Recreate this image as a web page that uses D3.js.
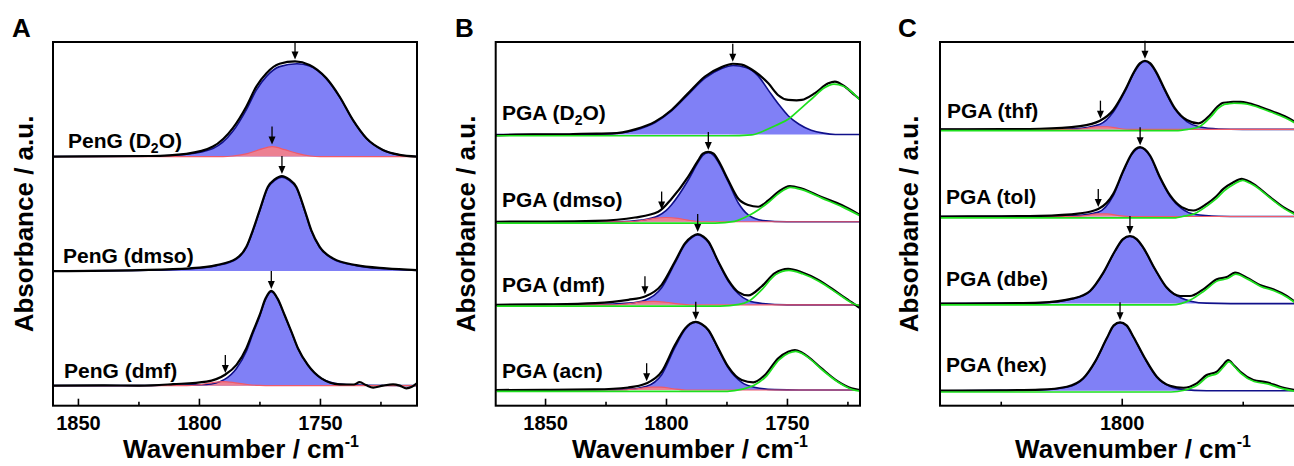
<!DOCTYPE html>
<html>
<head>
<meta charset="utf-8">
<script src="https://cdn.jsdelivr.net/npm/d3@7"></script>
<style>
  body { margin: 0; background: #fff; }
  svg { display: block; }
  text { font-family: "Liberation Sans", Arial, sans-serif; font-weight: bold; fill: #000; }
</style>
</head>
<body>
<svg id="chart" width="1294" height="466"></svg>
<script>
// ---- data: [wavenumber, absorbance] ----
// panel A, PenG
var penG_D2O_total = [[1860,0],[1820,0.005],[1805.2,0.024],[1794.2,0.087],[1786,0.248],[1780.4,0.437],[1776.3,0.611],[1772.1,0.728],[1766.7,0.81],[1760.3,0.83],[1754.3,0.80],[1747.4,0.685],[1741.9,0.524],[1736.4,0.32],[1730.8,0.16],[1724,0.058],[1717.1,0.015],[1710,0]];
var penG_D2O_main = [[1860,0],[1820,0.004],[1805.2,0.02],[1794.2,0.07],[1786,0.22],[1780.4,0.41],[1776.3,0.58],[1772.1,0.70],[1766.7,0.785],[1759.5,0.81],[1754.3,0.79],[1747.4,0.68],[1741.9,0.52],[1736.4,0.318],[1730.8,0.158],[1724,0.057],[1717.1,0.014],[1710,0]];
var penG_D2O_shoulder = [[1860,0],[1790,0],[1786,0.005],[1780,0.025],[1775,0.06],[1769.8,0.087],[1764.5,0.06],[1759,0.025],[1754,0.005],[1750,0],[1710,0]];

var penG_dmso_total = [[1860,0],[1824.5,0.009],[1803.8,0.024],[1792.8,0.052],[1784.5,0.111],[1780.4,0.212],[1777.7,0.358],[1774.9,0.533],[1771.5,0.736],[1768.7,0.80],[1765.7,0.83],[1762.7,0.80],[1759.8,0.736],[1756.3,0.533],[1753.6,0.358],[1750.1,0.212],[1744.6,0.111],[1735,0.052],[1722.6,0.024],[1710,0.009]];
var penG_dmso_main = [[1860,0],[1824.5,0.006],[1803.8,0.02],[1792.8,0.048],[1784.5,0.106],[1780.4,0.206],[1777.7,0.35],[1774.9,0.525],[1771.5,0.728],[1768.7,0.792],[1765.7,0.82],[1762.7,0.792],[1759.8,0.728],[1756.3,0.525],[1753.6,0.35],[1750.1,0.206],[1744.6,0.106],[1735,0.048],[1722.6,0.02],[1710,0.006]];

var penG_dmf_total = [[1860,0],[1840,0.003],[1824.5,0],[1810.7,0.013],[1796.9,0.035],[1789.4,0.093],[1784.5,0.181],[1780.4,0.327],[1777.7,0.472],[1774.9,0.617],[1772.5,0.76],[1770.1,0.827],[1767.5,0.76],[1764.6,0.617],[1761.8,0.472],[1759.1,0.327],[1755,0.181],[1749.4,0.064],[1741.9,0.012],[1736,0.01],[1733.6,0.03],[1731,0.005],[1728,-0.017],[1724,0],[1719.8,0.012],[1717,0],[1714.3,-0.023],[1712,-0.01],[1710,0.02]];
var penG_dmf_main = [[1860,0],[1824.5,0],[1810.7,0.005],[1796.9,0.01],[1789.4,0.055],[1784.5,0.15],[1780.4,0.30],[1777.7,0.455],[1774.9,0.605],[1772.5,0.75],[1770.1,0.82],[1767.5,0.755],[1764.6,0.612],[1761.8,0.468],[1759.1,0.324],[1755,0.178],[1749.4,0.062],[1741.9,0.014],[1730,0.003],[1710,0]];
var penG_dmf_shoulder = [[1860,0],[1805,0],[1800,0.008],[1795,0.025],[1790,0.035],[1785,0.025],[1780,0.01],[1775,0.002],[1770,0],[1710,0]];

// panel B, PGA
var pgaB_D2O_total = [[1870.4,-0.01],[1855,0],[1843.1,0],[1835,0.008],[1822.4,0.012],[1812.8,0.06],[1804.5,0.15],[1797.6,0.29],[1790.8,0.485],[1783.9,0.68],[1777,0.79],[1772.4,0.83],[1768.7,0.82],[1763.2,0.736],[1757.7,0.6],[1753.6,0.46],[1749.5,0.405],[1746,0.40],[1743.9,0.405],[1738.4,0.485],[1732.9,0.6],[1730.2,0.62],[1726,0.56],[1721.9,0.46],[1719.8,0.41]];
var pgaB_D2O_main = [[1870.4,0],[1843,0],[1822.4,0.01],[1812.8,0.05],[1804.5,0.14],[1797.6,0.28],[1790.8,0.47],[1783.9,0.66],[1777,0.775],[1772.2,0.81],[1767,0.785],[1762,0.69],[1757.7,0.52],[1753.6,0.36],[1749.5,0.22],[1745,0.12],[1740,0.05],[1735,0.015],[1730,0],[1719.8,0]];
var pgaB_D2O_second = [[1870.4,0],[1775,0],[1765,0.01],[1760.5,0.05],[1755,0.12],[1749.5,0.2],[1745,0.31],[1739.8,0.44],[1735,0.56],[1730.9,0.606],[1727,0.58],[1724.7,0.54],[1719.8,0.41]];

var pgaB_dmso_total = [[1870.4,0],[1850,0.002],[1829.3,0.01],[1812.8,0.05],[1803.2,0.117],[1797.7,0.27],[1790.8,0.53],[1786.7,0.72],[1784.8,0.80],[1782.5,0.82],[1780.3,0.80],[1778.4,0.72],[1774.3,0.49],[1770.1,0.27],[1766,0.196],[1761.9,0.176],[1757.7,0.25],[1753.6,0.35],[1748.8,0.42],[1743.9,0.39],[1735.7,0.29],[1727.4,0.196],[1719.8,0.08]];
var pgaB_dmso_main = [[1870.4,0],[1820,0],[1810,0.02],[1803.2,0.07],[1800,0.13],[1797.7,0.2],[1790.8,0.49],[1786.7,0.70],[1784.8,0.78],[1782.5,0.81],[1780.3,0.78],[1778.4,0.70],[1774.3,0.47],[1770.1,0.22],[1766,0.08],[1760,0.015],[1750,0],[1719.8,0]];
var pgaB_dmso_shoulder = [[1870.4,0],[1818,0],[1810,0.015],[1805,0.04],[1800,0.05],[1795,0.04],[1790,0.015],[1785,0],[1719.8,0]];
var pgaB_dmso_second = [[1870.4,0],[1780,0],[1772,0.02],[1766,0.09],[1761.9,0.16],[1757.7,0.25],[1753.6,0.35],[1748.8,0.42],[1743.9,0.39],[1735.7,0.29],[1727.4,0.19],[1719.8,0.08]];

var pgaB_dmf_total = [[1870.4,0],[1850,0.005],[1829.3,0.02],[1815.6,0.059],[1808.7,0.098],[1801.8,0.235],[1796.3,0.508],[1792.1,0.724],[1789.3,0.80],[1786.9,0.83],[1784.5,0.80],[1782.5,0.743],[1778.4,0.508],[1774.3,0.293],[1770.1,0.149],[1766,0.11],[1760.5,0.215],[1755,0.372],[1749.5,0.423],[1743.9,0.383],[1737,0.293],[1728.8,0.137],[1723.3,0.031],[1719.8,-0.04]];
var pgaB_dmf_main = [[1870.4,0],[1829.3,0.005],[1815.6,0.02],[1808.7,0.055],[1801.8,0.2],[1796.3,0.49],[1792.1,0.71],[1789.3,0.79],[1786.9,0.82],[1784.5,0.79],[1782.5,0.735],[1778.4,0.5],[1774.3,0.28],[1770.1,0.13],[1766,0.05],[1760,0.015],[1750,0],[1719.8,0]];
var pgaB_dmf_shoulder = [[1870.4,0],[1822,0],[1815,0.015],[1810,0.035],[1805,0.04],[1800,0.03],[1795,0.012],[1790,0],[1719.8,0]];
var pgaB_dmf_second = [[1870.4,0],[1778,0],[1770.1,0.02],[1766,0.06],[1760.5,0.2],[1755,0.37],[1749.5,0.42],[1743.9,0.38],[1737,0.29],[1728.8,0.137],[1723.3,0.035],[1719.8,0]];

var pgaB_acn_total = [[1870.4,0],[1850,0.002],[1829.3,0.007],[1815.6,0.03],[1808,0.08],[1801.8,0.215],[1796.3,0.528],[1792.1,0.724],[1790,0.78],[1787.7,0.80],[1785.3,0.775],[1782.5,0.704],[1778.4,0.489],[1774.3,0.274],[1768.7,0.117],[1763.9,0.09],[1759.1,0.176],[1753.6,0.372],[1749.5,0.45],[1746.7,0.47],[1743.9,0.44],[1741.2,0.39],[1735.7,0.254],[1728.8,0.098],[1723.3,0.02],[1719.8,0]];
var pgaB_acn_main = [[1870.4,0],[1829.3,0.003],[1815.6,0.01],[1808,0.045],[1801.8,0.18],[1796.3,0.5],[1792.1,0.71],[1790,0.77],[1787.7,0.795],[1785.3,0.77],[1782.5,0.70],[1778.4,0.48],[1774.3,0.26],[1768.7,0.09],[1763,0.03],[1755,0.005],[1745,0],[1719.8,0]];
var pgaB_acn_shoulder = [[1870.4,0],[1818,0],[1812,0.015],[1806,0.035],[1802,0.035],[1797,0.015],[1792,0],[1719.8,0]];
var pgaB_acn_second = [[1870.4,0],[1775,0],[1768.7,0.025],[1763.9,0.07],[1759.1,0.17],[1753.6,0.37],[1749.5,0.45],[1746.7,0.47],[1743.9,0.44],[1741.2,0.39],[1735.7,0.25],[1728.8,0.1],[1723.3,0.02],[1719.8,0]];

// panel C, PGA
var pgaC_thf_total = [[1875.1,0],[1850,0.002],[1833.8,0.007],[1817.2,0.038],[1809,0.099],[1803.5,0.222],[1798.6,0.451],[1794.5,0.681],[1792.4,0.76],[1790.4,0.788],[1788.3,0.76],[1786.2,0.681],[1782.1,0.451],[1778,0.241],[1773.1,0.107],[1768.3,0.069],[1763.5,0.164],[1760.5,0.26],[1758,0.306],[1756,0.31],[1753.9,0.317],[1751,0.315],[1748.3,0.306],[1742.9,0.26],[1737.4,0.203],[1731.8,0.138],[1728.4,0.085]];
var pgaC_thf_main = [[1875.1,0],[1833.8,0.002],[1820,0.008],[1809,0.06],[1803.5,0.2],[1798.6,0.44],[1794.5,0.67],[1792.4,0.75],[1790.4,0.78],[1788.3,0.75],[1786.2,0.67],[1782.1,0.44],[1778,0.23],[1773.1,0.09],[1768,0.03],[1760,0.005],[1750,0],[1728.4,0]];
var pgaC_thf_shoulder = [[1875.1,0],[1822,0],[1815,0.01],[1810,0.03],[1806,0.03],[1801,0.01],[1796,0],[1728.4,0]];
var pgaC_thf_second = [[1875.1,0],[1778,0],[1773.1,0.015],[1768.3,0.045],[1763.5,0.16],[1760.5,0.255],[1758,0.30],[1756,0.31],[1753.9,0.315],[1751,0.313],[1748.3,0.303],[1742.9,0.258],[1737.4,0.2],[1731.8,0.135],[1728.4,0.083]];

var pgaC_tol_total = [[1875.1,0],[1850,0.002],[1833.8,0.007],[1817.2,0.036],[1809.7,0.086],[1803.5,0.26],[1799.3,0.528],[1795.9,0.72],[1794.2,0.775],[1792.4,0.796],[1790.4,0.77],[1788.3,0.70],[1784.2,0.451],[1780,0.241],[1775.2,0.107],[1770.4,0.069],[1764.9,0.145],[1761,0.23],[1758,0.317],[1754,0.39],[1750.4,0.432],[1748,0.41],[1745.6,0.375],[1738.7,0.222],[1733.2,0.107],[1728.4,0.035]];
var pgaC_tol_main = [[1875.1,0],[1833.8,0.002],[1820,0.008],[1809.7,0.05],[1803.5,0.24],[1799.3,0.52],[1795.9,0.71],[1794.2,0.765],[1792.4,0.79],[1790.4,0.765],[1788.3,0.69],[1784.2,0.44],[1780,0.23],[1775.2,0.09],[1770,0.025],[1760,0.003],[1750,0],[1728.4,0]];
var pgaC_tol_shoulder = [[1875.1,0],[1822,0],[1815,0.01],[1810,0.03],[1806,0.03],[1801,0.01],[1796,0],[1728.4,0]];
var pgaC_tol_second = [[1875.1,0],[1778,0],[1775.2,0.015],[1770.4,0.045],[1764.9,0.14],[1761,0.225],[1758,0.31],[1754,0.385],[1750.4,0.43],[1748,0.405],[1745.6,0.37],[1738.7,0.22],[1733.2,0.105],[1728.4,0.033]];

var pgaC_dbe_total = [[1875.1,0],[1850,0.003],[1833.8,0.011],[1820,0.06],[1813.1,0.145],[1807.6,0.355],[1802.8,0.604],[1799.5,0.74],[1796.6,0.776],[1793.8,0.74],[1791.1,0.643],[1786.2,0.394],[1781.4,0.184],[1775.9,0.087],[1771.8,0.087],[1766.3,0.164],[1760.7,0.279],[1756.6,0.305],[1753.2,0.355],[1748.3,0.298],[1742.9,0.214],[1737.4,0.164],[1731.8,0.087],[1728.4,0.02]];
var pgaC_dbe_main = [[1875.1,0],[1833.8,0.008],[1820,0.055],[1813.1,0.14],[1807.6,0.35],[1802.8,0.6],[1799.5,0.735],[1796.6,0.772],[1793.8,0.735],[1791.1,0.638],[1786.2,0.39],[1781.4,0.178],[1775.9,0.07],[1771,0.025],[1765,0.005],[1755,0],[1728.4,0]];
var pgaC_dbe_second = [[1875.1,0],[1780,0],[1775.9,0.015],[1771.8,0.06],[1766.3,0.16],[1760.7,0.277],[1756.6,0.303],[1753.2,0.353],[1748.3,0.296],[1742.9,0.212],[1737.4,0.162],[1731.8,0.085],[1728.4,0.02]];

var pgaC_hex_total = [[1875.1,0],[1850,0.004],[1833.8,0.012],[1822.7,0.046],[1815.9,0.142],[1811,0.334],[1806.2,0.601],[1803.3,0.75],[1800.7,0.785],[1798,0.75],[1795.2,0.62],[1790.4,0.372],[1785.5,0.161],[1780,0.057],[1774.5,0.034],[1769,0.085],[1764.9,0.18],[1760.7,0.219],[1758.3,0.29],[1756,0.352],[1753.6,0.29],[1751.1,0.219],[1745.6,0.123],[1740.1,0.096],[1734.6,0.046],[1728.4,0.008]];
var pgaC_hex_main = [[1875.1,0],[1833.8,0.008],[1822.7,0.04],[1815.9,0.138],[1811,0.33],[1806.2,0.597],[1803.3,0.745],[1800.7,0.782],[1798,0.745],[1795.2,0.615],[1790.4,0.366],[1785.5,0.155],[1780,0.048],[1775,0.015],[1765,0],[1728.4,0]];
var pgaC_hex_second = [[1875.1,0],[1780,0],[1774.5,0.02],[1769,0.08],[1764.9,0.175],[1760.7,0.215],[1758.3,0.287],[1756,0.348],[1753.6,0.287],[1751.1,0.215],[1745.6,0.12],[1740.1,0.093],[1734.6,0.044],[1728.4,0.006]];

// sample names, stacking offsets (a.u.) and peak arrows [wavenumber, absorbance]
var namesA = ["PenG (D2O)", "PenG (dmso)", "PenG (dmf)"];
var offsetsA = [2, 1, 0];
var arrowsA = [[[1760.3, 0.83], [1769.8, 0.087]], [[1765.7, 0.83]], [[1770.1, 0.827], [1789.1, 0.093]]];

var namesB = ["PGA (D2O)", "PGA (dmso)", "PGA (dmf)", "PGA (acn)"];
var offsetsB = [3, 1.975, 1, 0];
var arrowsB = [[[1772.4, 0.83]], [[1782.5, 0.82], [1801.8, 0.12]], [[1786.9, 0.83], [1808.7, 0.1]], [[1787.7, 0.80], [1808, 0.08]]];

var namesC = ["PGA (thf)", "PGA (tol)", "PGA (dbe)", "PGA (hex)"];
var offsetsC = [3, 2, 1, 0];
var arrowsC = [[[1790.4, 0.788], [1808.8, 0.1]], [[1792.4, 0.796], [1809.7, 0.086]], [[1796.6, 0.776]], [[1800.7, 0.785]]];

// axis ticks
var majorA = [1850, 1800, 1750], minorA = [1825, 1775, 1725];
var majorB = [1850, 1800, 1750], minorB = [1825, 1775, 1725];
var majorC = [1800], minorC = [1850, 1750];

// ---- layout ----
var TOP = 42, BOTTOM = 405.7;
var BLUE_FILL = "#8080f6", NAVY = "#10108a", RED_FILL = "#ff8080", RED_LINE = "#f05a6a", GREEN = "#1ee01e";

var panels = [
  {letter: "A", letterX: 12, left: 53, right: 417, xDomain: [1860.3, 1709.9], yDomain: [-0.175, 3.0],
   names: namesA, offsets: offsetsA, arrows: arrowsA, major: majorA, minor: minorA,
   labelX: [68, 63, 64], labelUp: [8.7, 7.7, 8], titleX: 241, yTitleX: 33,
   spectra: [
     {total: penG_D2O_total, main: penG_D2O_main, shoulder: penG_D2O_shoulder},
     {total: penG_dmso_total, main: penG_dmso_main},
     {total: penG_dmf_total, main: penG_dmf_main, shoulder: penG_dmf_shoulder}]},
  {letter: "B", letterX: 455, left: 495.7, right: 860, xDomain: [1870.4, 1719.8], yDomain: [-0.184, 4.085],
   names: namesB, offsets: offsetsB, arrows: arrowsB, major: majorB, minor: minorB,
   labelX: [502, 502, 502, 502], labelUp: [14.3, 15, 13.3, 11.7], titleX: 690, yTitleX: 475,
   spectra: [
     {total: pgaB_D2O_total, main: pgaB_D2O_main, second: pgaB_D2O_second},
     {total: pgaB_dmso_total, main: pgaB_dmso_main, shoulder: pgaB_dmso_shoulder, second: pgaB_dmso_second},
     {total: pgaB_dmf_total, main: pgaB_dmf_main, shoulder: pgaB_dmf_shoulder, second: pgaB_dmf_second},
     {total: pgaB_acn_total, main: pgaB_acn_main, shoulder: pgaB_acn_shoulder, second: pgaB_acn_second}]},
  {letter: "C", letterX: 898, left: 940, right: 1295, xDomain: [1875.1, 1728.4], yDomain: [-0.172, 4.003],
   names: namesC, offsets: offsetsC, arrows: arrowsC, major: majorC, minor: minorC,
   labelX: [947, 946, 946, 946], labelUp: [11, 12.7, 17.6, 19], titleX: 1133, yTitleX: 918,
   spectra: [
     {total: pgaC_thf_total, main: pgaC_thf_main, shoulder: pgaC_thf_shoulder, second: pgaC_thf_second},
     {total: pgaC_tol_total, main: pgaC_tol_main, shoulder: pgaC_tol_shoulder, second: pgaC_tol_second},
     {total: pgaC_dbe_total, main: pgaC_dbe_main, second: pgaC_dbe_second},
     {total: pgaC_hex_total, main: pgaC_hex_main, second: pgaC_hex_second}]}
];

var svg = d3.select("#chart");

// writes "D2O" with a subscript 2
var writeName = function (sel, name) {
  var i = name.indexOf("D2O");
  if (i < 0) { sel.text(name); return; }
  sel.append("tspan").text(name.slice(0, i + 1));
  sel.append("tspan").attr("dy", 5).attr("font-size", 14).text("2");
  sel.append("tspan").attr("dy", -5).text(name.slice(i + 2));
};

panels.forEach(function (p, pi) {
  var x = d3.scaleLinear().domain(p.xDomain).range([p.left, p.right]);
  var y = d3.scaleLinear().domain(p.yDomain).range([BOTTOM, TOP]);
  var g = svg.append("g");

  svg.append("clipPath").attr("id", "clip" + pi)
    .append("rect").attr("x", p.left).attr("y", TOP)
    .attr("width", p.right - p.left).attr("height", BOTTOM - TOP);
  var plot = g.append("g").attr("clip-path", "url(#clip" + pi + ")");

  p.spectra.forEach(function (s, si) {
    var off = p.offsets[si];
    var line = d3.line()
      .x(function (d) { return x(d[0]); })
      .y(function (d) { return y(d[1] + off); })
      .curve(d3.curveMonotoneX);
    var area = d3.area()
      .x(function (d) { return x(d[0]); })
      .y0(y(off))
      .y1(function (d) { return y(d[1] + off); })
      .curve(d3.curveMonotoneX);

    plot.append("path").attr("d", area(s.main)).attr("fill", BLUE_FILL);
    if (s.shoulder) {
      plot.append("path").attr("d", area(s.shoulder)).attr("fill", RED_FILL).attr("fill-opacity", 0.85);
    }
    plot.append("path").attr("d", line(s.main))
      .attr("fill", "none").attr("stroke", NAVY).attr("stroke-width", 1.6);
    if (s.shoulder) {
      plot.append("path").attr("d", line(s.shoulder))
        .attr("fill", "none").attr("stroke", RED_LINE).attr("stroke-width", 1.2);
    }
    plot.append("path").attr("d", line(s.total))
      .attr("fill", "none").attr("stroke", "#000").attr("stroke-width", 2.2)
      .attr("stroke-linejoin", "round");
    // fitted second band, drawn just beside the measured line as in the original
    if (s.second) {
      plot.append("path").attr("d", line(s.second))
        .attr("transform", "translate(0.8,1.3)")
        .attr("fill", "none").attr("stroke", GREEN).attr("stroke-width", 1.7);
    }

    // peak arrows
    p.arrows[si].forEach(function (a) {
      var ax = x(a[0]), tip = y(a[1] + off) - 2;
      g.append("line").attr("x1", ax).attr("x2", ax).attr("y1", tip - 18).attr("y2", tip - 6)
        .attr("stroke", "#000").attr("stroke-width", 1.3);
      g.append("path")
        .attr("d", "M" + (ax - 3.5) + "," + (tip - 8) + "L" + (ax + 3.5) + "," + (tip - 8) + "L" + ax + "," + tip + "Z")
        .attr("fill", "#000");
    });

    var lab = g.append("text")
      .attr("x", p.labelX[si]).attr("y", y(off) - p.labelUp[si])
      .attr("font-size", 21);
    writeName(lab, p.names[si]);
  });

  // frame
  g.append("rect").attr("x", p.left).attr("y", TOP)
    .attr("width", p.right - p.left).attr("height", BOTTOM - TOP)
    .attr("fill", "none").attr("stroke", "#000").attr("stroke-width", 2);

  // x axis, ticks pointing inwards
  var major = g.append("g").attr("transform", "translate(0," + BOTTOM + ")")
    .call(d3.axisBottom(x).tickValues(p.major).tickSizeInner(-7).tickSizeOuter(0)
      .tickPadding(10).tickFormat(d3.format("d")));
  major.select(".domain").remove();
  major.selectAll("line").attr("stroke-width", 1.6);
  major.selectAll("text").attr("font-size", 20)
    .style("font-family", "'Liberation Sans', Arial, sans-serif").style("font-weight", "bold");

  var minor = g.append("g").attr("transform", "translate(0," + BOTTOM + ")")
    .call(d3.axisBottom(x).tickValues(p.minor).tickSizeInner(-4).tickSizeOuter(0).tickFormat(""));
  minor.select(".domain").remove();
  minor.selectAll("line").attr("stroke-width", 1.6);

  // titles
  var xt = g.append("text").attr("x", p.titleX).attr("y", 458).attr("font-size", 26)
    .attr("text-anchor", "middle");
  xt.append("tspan").text("Wavenumber / cm");
  xt.append("tspan").attr("dy", -11).attr("font-size", 16).text("-1");

  g.append("text").attr("transform", "translate(" + p.yTitleX + ",224) rotate(-90)")
    .attr("text-anchor", "middle").attr("font-size", 26).text("Absorbance / a.u.");

  g.append("text").attr("x", p.letterX).attr("y", 37).attr("font-size", 26).text(p.letter);
});
</script>
</body>
</html>
